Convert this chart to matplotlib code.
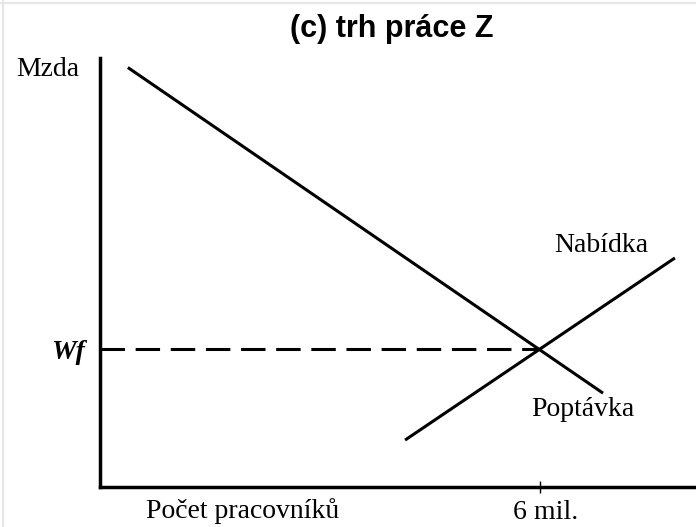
import matplotlib.pyplot as plt
from matplotlib.lines import Line2D
from matplotlib.transforms import ScaledTranslation

# labour market diagram, values in "millions of workers" / arbitrary wage units
demand_x = [0.38, 6.86]
demand_y = [30.4, 6.8]
supply_x = [4.16, 7.84]
supply_y = [3.4, 16.6]
eq_workers = 6.0
eq_wage = 10.0
x_ticks = [eq_workers]
x_tick_labels = ["6 mil."]
y_ticks = [eq_wage]
y_tick_labels = ["Wf"]

SERIF = "Liberation Serif"
SANS = "Liberation Sans"
FS = 20

fig = plt.figure(figsize=(6.96, 5.27), dpi=100)
ax = fig.add_axes([100 / 696, 40 / 527, 595 / 696, 429 / 527])
ax.set_xlim(0, 8.114)
ax.set_ylim(0, 31.09)

ax.plot(demand_x, demand_y, color="black", lw=2.2, solid_capstyle="butt")
ax.plot(supply_x, supply_y, color="black", lw=2.2, solid_capstyle="butt")
ax.plot([0, eq_workers], [eq_wage, eq_wage], color="black", lw=2.2,
        dashes=(8, 3.5), dash_capstyle="butt")

for side in ["top", "right"]:
    ax.spines[side].set_visible(False)
for side in ["left", "bottom"]:
    ax.spines[side].set_linewidth(2.5)

ax.set_xticks(x_ticks)
ax.set_xticklabels(x_tick_labels, fontfamily=SERIF, fontsize=FS)
ax.tick_params(axis="x", direction="inout", length=9, width=1, pad=5)
for lbl in ax.get_xticklabels():
    lbl.set_transform(lbl.get_transform() + ScaledTranslation(6 / 100, 0, fig.dpi_scale_trans))
ax.set_yticks(y_ticks)
ax.set_yticklabels(y_tick_labels, fontfamily=SERIF, fontsize=FS,
                   fontstyle="italic", fontweight="bold")
ax.tick_params(axis="y", length=0, pad=11)

ax.text(-0.71, 30.25, "Mzda", fontfamily=SERIF, fontsize=FS,
        ha="center", va="center", clip_on=False)
ax.text(1.95, -1.75, "Počet pracovníků", fontfamily=SERIF, fontsize=FS,
        ha="center", va="center", clip_on=False)
ax.text(6.83, 17.5, "Nabídka", fontfamily=SERIF, fontsize=FS,
        ha="center", va="center")
ax.text(6.59, 5.6, "Poptávka", fontfamily=SERIF, fontsize=FS,
        ha="center", va="center")

fig.text(392 / 696, 1 - 29 / 527, "(c) trh práce Z", fontfamily=SANS,
         fontsize=22, fontweight="bold", ha="center", va="center")

# faint screenshot frame at the top and left edge
fig.add_artist(Line2D([0, 1], [1 - 3 / 527] * 2, color="#e6e6e6", lw=1.5))
fig.add_artist(Line2D([3 / 696] * 2, [0, 1], color="#e6e6e6", lw=1.5))

fig.savefig("out.png", dpi=100)
